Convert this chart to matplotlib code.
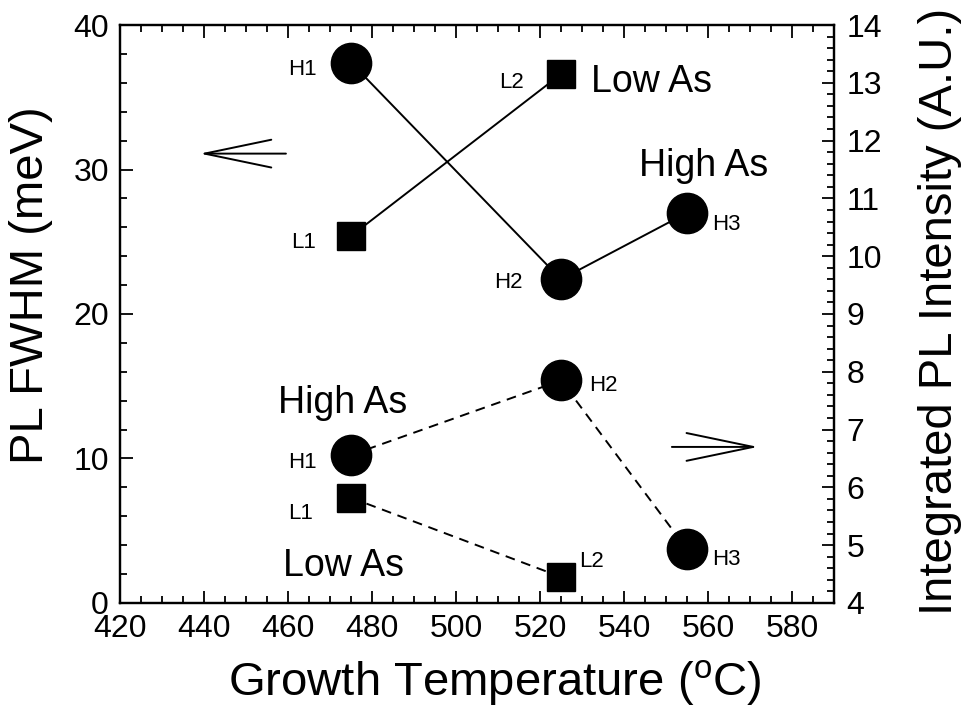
import numpy as np
import matplotlib.pyplot as plt
from matplotlib.ticker import MultipleLocator

plt.rcParams['font.family'] = ['Liberation Sans', 'DejaVu Sans']
plt.rcParams['mathtext.fontset'] = 'custom'
plt.rcParams['mathtext.rm'] = 'Liberation Sans'

# growth temperatures (C)
temp_high = [475, 525, 555]
temp_low = [475, 525]
label_high = ['H1', 'H2', 'H3']
label_low = ['L1', 'L2']

# PL FWHM (meV), left axis
fwhm_high = [37.4, 22.4, 27.0]
fwhm_low = [25.4, 36.6]

# integrated PL intensity (A.U.), right axis
inten_high = [6.56, 7.85, 4.93]
inten_low = [5.82, 4.45]

fig = plt.figure(figsize=(9.76, 7.21), dpi=100)
ax = fig.add_axes([0.123, 0.1637, 0.7315, 0.8016])
ax2 = ax.twinx()

circ = dict(marker='o', markersize=29, color='black', lw=1.4)
sq = dict(marker='s', markersize=20, color='black', lw=1.4)

ax.plot(temp_high, fwhm_high, ls='-', **circ)
ax.plot(temp_low, fwhm_low, ls='-', **sq)
ax2.plot(temp_high, inten_high, ls=(0, (5, 3.5)), **circ)
ax2.plot(temp_low, inten_low, ls=(0, (5, 3.5)), **sq)


# point labels, offsets in pixels from the marker (text baseline)
def tag(a, x, y, s, dx, dy, ha, size=16):
    a.annotate(s, (x, y), xytext=(dx, dy), textcoords='offset pixels',
               ha=ha, va='baseline', fontsize=size)


off_fwhm_h = [(-34, -12, 'right'), (-38, -9, 'right'), (25, -17, 'left')]
off_fwhm_l = [(-35, -12, 'right'), (-37, -14, 'right')]
off_int_h = [(-34, -13, 'right'), (28, -11, 'left'), (25, -16, 'left')]
off_int_l = [(-38, -21, 'right'), (18, 10, 'left')]

for x, y, s, o in zip(temp_high, fwhm_high, label_high, off_fwhm_h):
    tag(ax, x, y, s, *o)
for x, y, s, o in zip(temp_low, fwhm_low, label_low, off_fwhm_l):
    tag(ax, x, y, s, *o)
for x, y, s, o in zip(temp_high, inten_high, label_high, off_int_h):
    tag(ax2, x, y, s, *o)
for x, y, s, o in zip(temp_low, inten_low, label_low, off_int_l):
    tag(ax2, x, y, s, *o)

tag(ax, temp_low[1], fwhm_low[1], 'Low As', 30, -18, 'left', 27)
tag(ax, temp_high[2], fwhm_high[2], 'High As', -48, 37, 'left', 27)
tag(ax2, temp_high[0], inten_high[0], 'High As', -73, 42, 'left', 27)
tag(ax2, temp_low[0], inten_low[0], 'Low As', -68, -78, 'left', 27)

# arrows pointing to the axis each curve belongs to
arrow = dict(arrowstyle='->, head_length=2.4, head_width=0.5',
             lw=1.4, color='black', shrinkA=0, shrinkB=0, mutation_scale=20)
ax.annotate('', xy=(439.0, 31.1), xytext=(459.5, 31.1), arrowprops=arrow)
ax2.annotate('', xy=(571.9, 6.7), xytext=(551.4, 6.7), arrowprops=arrow)

ax.set_xlim(420, 590)
ax.set_ylim(0, 40)
ax2.set_ylim(4, 14)
ax.set_xticks(np.arange(420, 581, 20))
ax.xaxis.set_minor_locator(MultipleLocator(5))
ax.set_yticks(np.arange(0, 41, 10))
ax.yaxis.set_minor_locator(MultipleLocator(2))
ax2.set_yticks(np.arange(4, 15, 1))
ax2.yaxis.set_minor_locator(MultipleLocator(0.2))

ax.tick_params(which='both', direction='in', top=True, right=False,
               labelsize=23, width=1.3)
ax.tick_params(which='major', length=9)
ax.tick_params(which='minor', length=5)
ax2.tick_params(which='both', direction='in', labelsize=23, width=1.3)
ax2.tick_params(which='major', length=9, pad=9)
ax2.tick_params(which='minor', length=5)
ax.tick_params(axis='x', which='major', pad=8)
ax.tick_params(axis='y', which='major', pad=8)
for a in (ax, ax2):
    for sp in a.spines.values():
        sp.set_linewidth(1.6)

ax.set_xlabel(r'Growth Temperature ($^{\rm o}$C)', fontsize=34)
ax.set_ylabel('PL FWHM (meV)', fontsize=34)
ax2.set_ylabel('Integrated PL Intensity (A.U.)', fontsize=34)
ax.xaxis.set_label_coords(0.525, -0.138)
ax.yaxis.set_label_coords(-0.125, 0.55)
ax2.yaxis.set_label_coords(1.148, 0.505)
for lab in (ax.xaxis.label, ax.yaxis.label, ax2.yaxis.label):
    lab.set_va('center')

fig.savefig('out.png', dpi=100, facecolor='white')
